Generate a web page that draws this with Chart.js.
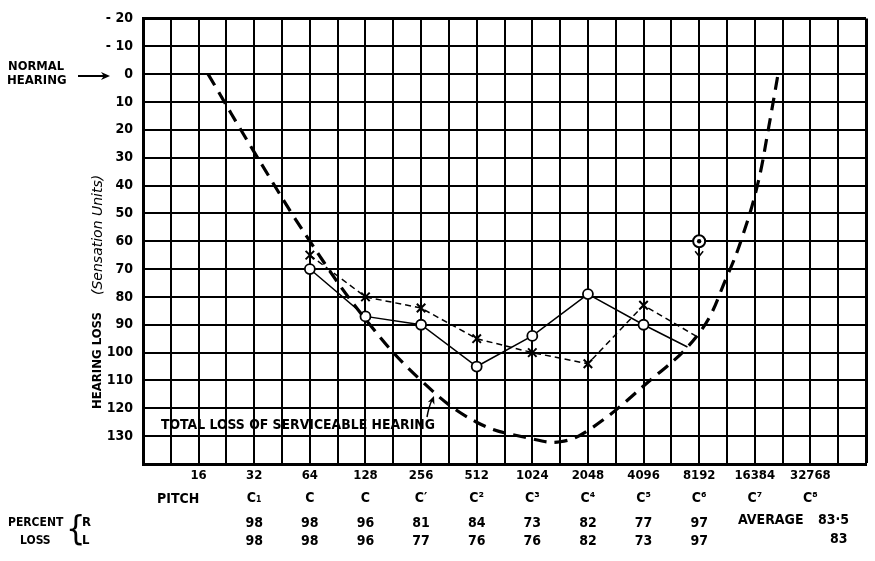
<!DOCTYPE html>
<html>
<head>
<meta charset="utf-8">
<script src="https://cdn.jsdelivr.net/npm/chart.js@4"></script>
<style>
  html, body { margin: 0; padding: 0; background: #fff; }
  #wrap { width: 875px; height: 561px; }
</style>
</head>
<body>
<div id="wrap"><canvas id="audiogram"></canvas></div>
<script>
// octave labels under the grid
var freqLabels = [16, 32, 64, 128, 256, 512, 1024, 2048, 4096, 8192, 16384, 32768];
var pitchNames = ['', 'C₁', 'C', 'C', 'C′', 'C²', 'C³', 'C⁴', 'C⁵', 'C⁶', 'C⁷', 'C⁸'];

// percent loss table
var lossFreqs = [32, 64, 128, 256, 512, 1024, 2048, 4096, 8192];
var lossRight = [98, 98, 96, 81, 84, 73, 82, 77, 97];
var lossLeft = [98, 98, 96, 77, 76, 76, 82, 73, 97];
var averageRight = '83·5';
var averageLeft = '83';

// measured thresholds (last point of each line is where it meets the total loss curve)
var circleFreqs = [64, 128, 256, 512, 1024, 2048, 4096, 7080];
var circleLoss = [70, 87, 90, 105, 94, 79, 90, 98];
var crossFreqs = [64, 128, 256, 512, 1024, 2048, 4096, 7850];
var crossLoss = [65, 80, 84, 95, 100, 104, 83, 94];
var noResponseFreqs = [8192];
var noResponseLoss = [60];

// total loss of serviceable hearing
var totalLossFreqs = [18, 32, 64, 128, 256, 512, 1024, 1450, 2048, 4096, 8192, 11700, 14260, 17070, 19500, 21900];
var totalLossValues = [0, 28, 60, 88, 110, 125, 131, 132, 128, 112, 93, 72, 57, 39, 19, 0];

var FONT = "'DejaVu Sans Condensed', 'Liberation Sans', sans-serif";
var FONT_WIDE = "'DejaVu Sans', 'Liberation Sans', sans-serif";

function toPoints(freqs, vals) {
    return freqs.map(function (f, i) { return { x: Math.log2(f), y: vals[i] }; });
}

function arrowHead(ctx, x, y, angle, size) {
    ctx.save();
    ctx.translate(x, y);
    ctx.rotate(angle);
    ctx.beginPath();
    ctx.moveTo(0, 0);
    ctx.lineTo(-size, -size * 0.45);
    ctx.lineTo(-size * 0.7, 0);
    ctx.lineTo(-size, size * 0.45);
    ctx.closePath();
    ctx.fill();
    ctx.restore();
}

var annotations = {
    id: 'annotations',
    afterDraw: function (chart) {
        var ctx = chart.ctx;
        var xs = chart.scales.x;
        ctx.save();
        ctx.fillStyle = '#000';
        ctx.strokeStyle = '#000';

        // normal hearing pointer
        ctx.font = 'bold 13px ' + FONT;
        ctx.textAlign = 'left';
        ctx.textBaseline = 'middle';
        ctx.fillText('NORMAL', 8, 67, 56);
        ctx.fillText('HEARING', 7, 81, 63);
        ctx.lineWidth = 2;
        ctx.beginPath();
        ctx.moveTo(78, 76);
        ctx.lineTo(104, 76);
        ctx.stroke();
        arrowHead(ctx, 110, 76, 0, 9);

        // y axis title
        ctx.save();
        ctx.translate(98, 409);
        ctx.rotate(-Math.PI / 2);
        ctx.textAlign = 'left';
        ctx.font = 'bold 13px ' + FONT;
        ctx.fillText('HEARING LOSS', 0, 0, 108);
        ctx.font = 'italic 14px ' + FONT_WIDE;
        ctx.fillText('(Sensation Units)', 114, 0, 144);
        ctx.restore();

        // total loss label
        ctx.font = 'bold 14px ' + FONT;
        ctx.textAlign = 'left';
        ctx.fillText('TOTAL LOSS OF SERVICEABLE HEARING', 161, 425, 274);
        ctx.lineWidth = 1.5;
        ctx.beginPath();
        ctx.moveTo(427, 417);
        ctx.quadraticCurveTo(429, 406, 432, 400);
        ctx.stroke();
        arrowHead(ctx, 434, 396, -1.2, 8);

        // pitch row
        ctx.font = 'bold 14px ' + FONT;
        ctx.textAlign = 'left';
        ctx.fillText('PITCH', 157, 499, 48);
        ctx.textAlign = 'center';
        freqLabels.forEach(function (f, i) {
            if (pitchNames[i]) ctx.fillText(pitchNames[i], xs.getPixelForValue(Math.log2(f)), 498);
        });

        // percent loss rows
        ctx.font = 'bold 12px ' + FONT;
        ctx.textAlign = 'left';
        ctx.fillText('PERCENT', 8, 523, 60);
        ctx.fillText('LOSS', 20, 541, 33);
        ctx.font = '34px ' + FONT;
        ctx.fillText('{', 66, 531);
        ctx.font = 'bold 13px ' + FONT;
        ctx.fillText('R', 82, 523);
        ctx.fillText('L', 82, 541);
        ctx.font = 'bold 14px ' + FONT;
        ctx.textAlign = 'center';
        lossFreqs.forEach(function (f, i) {
            var px = xs.getPixelForValue(Math.log2(f));
            ctx.fillText(String(lossRight[i]), px, 523);
            ctx.fillText(String(lossLeft[i]), px, 541);
        });
        ctx.textAlign = 'left';
        ctx.fillText('AVERAGE', 738, 520, 74);
        ctx.fillText(averageRight, 818, 520, 33);
        ctx.fillText(averageLeft, 830, 539);

        // no response marker: dot in the circle and a downward arrow
        var meta = chart.getDatasetMeta(3);
        meta.data.forEach(function (pt) {
            ctx.beginPath();
            ctx.arc(pt.x, pt.y, 2.2, 0, Math.PI * 2);
            ctx.fill();
            ctx.lineWidth = 1.5;
            ctx.beginPath();
            ctx.moveTo(pt.x, pt.y + 6);
            ctx.lineTo(pt.x, pt.y + 20);
            ctx.moveTo(pt.x - 4, pt.y + 10);
            ctx.lineTo(pt.x, pt.y + 15);
            ctx.lineTo(pt.x + 4, pt.y + 10);
            ctx.stroke();
        });
        ctx.restore();
    }
};

var canvas = document.getElementById('audiogram');

new Chart(canvas, {
    type: 'scatter',
    data: {
        datasets: [{
            label: 'Total loss of serviceable hearing',
            data: toPoints(totalLossFreqs, totalLossValues),
            showLine: true,
            borderColor: '#000',
            borderWidth: 3.2,
            borderDash: [13, 8],
            pointRadius: 0,
            tension: 0.4
        }, {
            label: 'Circles',
            data: toPoints(circleFreqs, circleLoss),
            showLine: true,
            borderColor: '#000',
            borderWidth: 1.5,
            pointStyle: 'circle',
            pointRadius: function (c) { return c.dataIndex === circleFreqs.length - 1 ? 0 : 5; },
            pointBorderWidth: 1.8,
            pointBackgroundColor: '#fff',
            pointBorderColor: '#000'
        }, {
            label: 'Crosses',
            data: toPoints(crossFreqs, crossLoss),
            showLine: true,
            borderColor: '#000',
            borderWidth: 1.5,
            borderDash: [6, 4],
            pointStyle: 'crossRot',
            pointRadius: function (c) { return c.dataIndex === crossFreqs.length - 1 ? 0 : 6; },
            pointBorderWidth: 2,
            pointBorderColor: '#000'
        }, {
            label: 'No response',
            data: toPoints(noResponseFreqs, noResponseLoss),
            showLine: false,
            pointStyle: 'circle',
            pointRadius: 6,
            pointBorderWidth: 2,
            pointBackgroundColor: '#fff',
            pointBorderColor: '#000'
        }]
    },
    options: {
        responsive: true,
        maintainAspectRatio: false,
        animation: false,
        events: [],
        layout: { padding: { top: 18, right: 9, left: 0, bottom: 0 } },
        plugins: {
            legend: { display: false },
            tooltip: { enabled: false }
        },
        scales: {
            x: {
                type: 'linear',
                min: 3,
                max: 16,
                afterFit: function (s) { s.height = 97; },
                ticks: {
                    stepSize: 0.5,
                    autoSkip: false,
                    maxRotation: 0,
                    padding: 4,
                    color: '#000',
                    font: { family: FONT, size: 13, weight: 'bold' },
                    callback: function (v) {
                        return (Number.isInteger(v) && v >= 4 && v <= 15) ? String(Math.pow(2, v)) : '';
                    }
                },
                grid: {
                    color: '#000',
                    lineWidth: function (c) { return (c.tick && c.tick.value === 16) ? 3 : 2; },
                    drawTicks: false
                },
                border: { color: '#000', width: 3 }
            },
            y: {
                type: 'linear',
                reverse: true,
                min: -20,
                max: 140,
                afterFit: function (s) { s.width = 143; },
                ticks: {
                    stepSize: 10,
                    padding: 10,
                    color: '#000',
                    font: { family: FONT, size: 14, weight: 'bold' },
                    callback: function (v) {
                        if (v === 140) return '';
                        return v < 0 ? '- ' + (-v) : String(v);
                    }
                },
                grid: {
                    color: '#000',
                    lineWidth: function (c) { return (c.tick && c.tick.value === -20) ? 3 : 2; },
                    drawTicks: false
                },
                border: { color: '#000', width: 3 }
            }
        }
    },
    plugins: [annotations]
});
</script>
</body>
</html>
